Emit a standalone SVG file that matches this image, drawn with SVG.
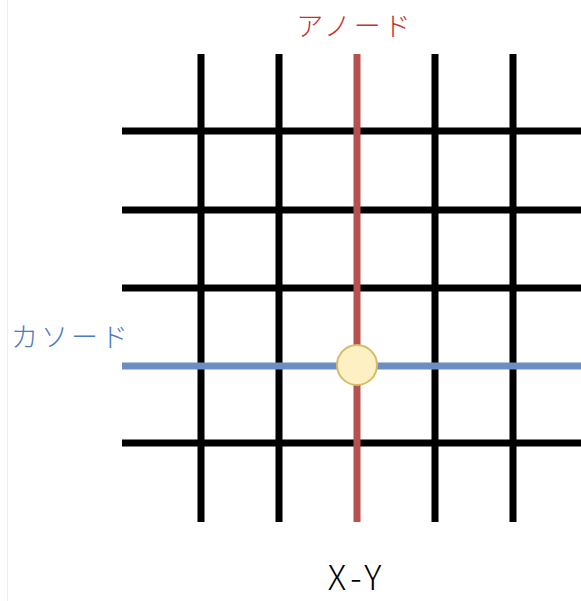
<svg xmlns="http://www.w3.org/2000/svg" width="581" height="601" viewBox="0 0 581 601">
<style>
.g{stroke:#000;stroke-width:7;fill:none}
.lbl{font-family:"Noto Sans CJK JP","Noto Sans",sans-serif;font-weight:300}
</style>
<rect width="581" height="601" fill="#fff"/>
<line x1="7.5" y1="0" x2="7.5" y2="601" stroke="#eeeeee" stroke-width="1"/>
<g id="connectors">
<line class="g" x1="201" y1="54" x2="201" y2="522"/>
<line class="g" x1="279" y1="54" x2="279" y2="522"/>
<line class="g" x1="435" y1="54" x2="435" y2="522"/>
<line class="g" x1="513" y1="54" x2="513" y2="522"/>
<line class="g" x1="122" y1="131" x2="581" y2="131"/>
<line class="g" x1="122" y1="210" x2="581" y2="210"/>
<line class="g" x1="122" y1="288" x2="581" y2="288"/>
<line class="g" x1="122" y1="443" x2="581" y2="443"/>
<line id="cathode-line" x1="122" y1="366" x2="581" y2="366" stroke="#6B8EC4" stroke-width="7"/>
<line id="anode-line" x1="357" y1="54" x2="357" y2="522" stroke="#B5524F" stroke-width="7"/>
</g>
<g id="junction">
<circle cx="357" cy="365" r="20" fill="#FDF1C4" stroke="#D6BC66" stroke-width="2"/>
</g>
<g id="anode-label">
<text class="lbl" x="355" y="36" font-size="27" fill="#C8302E" text-anchor="middle" letter-spacing="3">アノード</text>
</g>
<g id="cathode-label">
<text class="lbl" x="11" y="347" font-size="27" fill="#4A7CC4" letter-spacing="3">カソード</text>
</g>
<g id="title">
<text class="lbl" x="357" y="590" font-size="34" fill="#000" text-anchor="middle" letter-spacing="5">X-Y</text>
</g>
</svg>
